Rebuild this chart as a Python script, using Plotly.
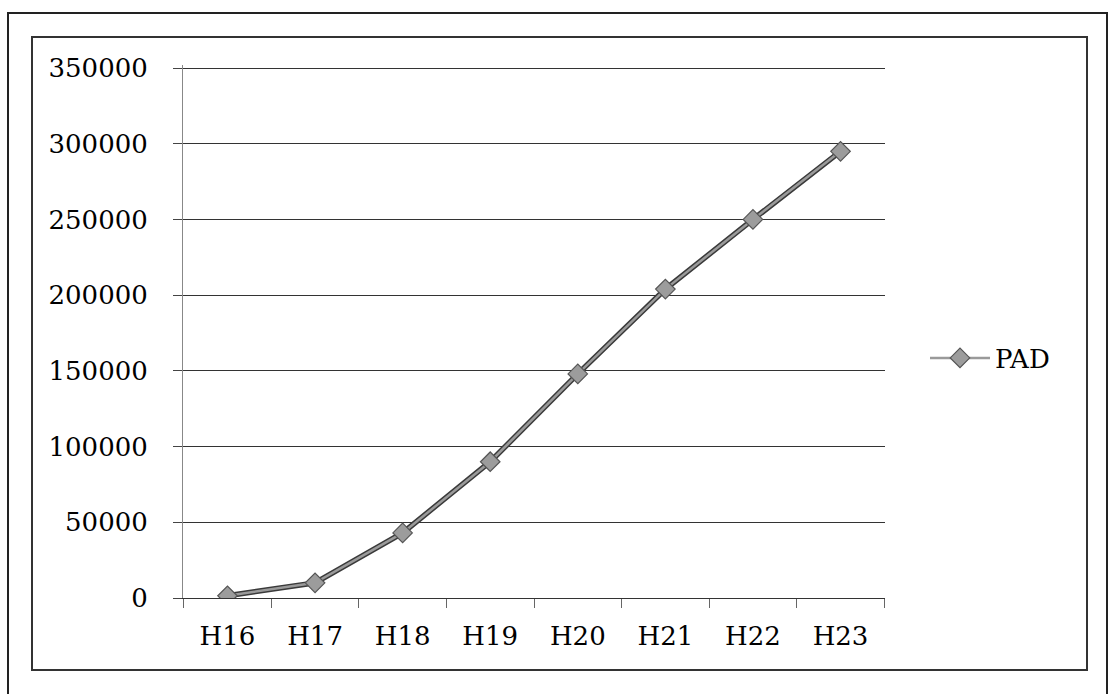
import plotly.graph_objects as go

# Fiscal years (Heisei era) and cumulative PAD counts
years = ["H16", "H17", "H18", "H19", "H20", "H21", "H22", "H23"]
pad_counts = [1500, 10000, 43000, 90000, 148000, 204000, 250000, 295000]
y_ticks = [0, 50000, 100000, 150000, 200000, 250000, 300000, 350000]
y_top = 352000  # a little headroom so the top gridline is drawn

W, H = 1109, 694
L, R, T, B = 183, 885, 65, 598  # plot area in pixels


def px(x):
    return (x - L) / (R - L)


def py(y):
    return (B - y) / (B - T)


fig = go.Figure()

# dark outline under the series line
fig.add_trace(go.Scatter(
    x=years, y=pad_counts, mode="lines",
    line=dict(color="#3a3a3a", width=5.5),
    showlegend=False, hoverinfo="skip",
))
# series line with diamond markers
fig.add_trace(go.Scatter(
    x=years, y=pad_counts, mode="lines+markers", name="PAD",
    line=dict(color="#9a9a9a", width=2.5),
    marker=dict(symbol="diamond", size=15, color="#9c9c9c",
                line=dict(color="#555555", width=1.2)),
))

serif = "DejaVu Serif"
ink = "#000000"

fig.update_layout(
    width=W, height=H,
    margin=dict(l=L, r=W - R, t=T, b=H - B),
    paper_bgcolor="white", plot_bgcolor="white",
    font=dict(family=serif, size=26, color=ink),
    showlegend=True,
    legend=dict(
        x=px(925), y=py(358), xanchor="left", yanchor="middle",
        font=dict(family=serif, size=26, color=ink),
        bgcolor="rgba(0,0,0,0)", itemwidth=60,
    ),
    xaxis=dict(
        type="category", categoryorder="array", categoryarray=years,
        showgrid=False, showline=True, linecolor="#333333", linewidth=1.4,
        ticks="outside", ticklen=9, tickcolor="#666666", tickwidth=1,
        tickson="boundaries", ticklabelstandoff=15,
        tickfont=dict(family=serif, size=26, color=ink),
        zeroline=False,
    ),
    yaxis=dict(
        range=[0, y_top], tickvals=y_ticks,
        ticktext=[str(v) for v in y_ticks],
        showgrid=True, gridcolor="#333333", gridwidth=1.1,
        showline=True, linecolor="#888888", linewidth=1,
        ticks="outside", ticklen=9, tickcolor="#444444", tickwidth=1,
        ticklabelstandoff=20,
        tickfont=dict(family=serif, size=26, color=ink),
        zeroline=False,
    ),
    shapes=[
        # outer frame
        dict(type="rect", xref="paper", yref="paper",
             x0=px(8), x1=px(1107), y0=py(704), y1=py(13),
             line=dict(color="#222222", width=2), fillcolor="rgba(0,0,0,0)"),
        # chart-area frame
        dict(type="rect", xref="paper", yref="paper",
             x0=px(32), x1=px(1087), y0=py(670), y1=py(37),
             line=dict(color="#333333", width=2), fillcolor="rgba(0,0,0,0)"),
    ],
)

fig.write_html("out.html")
